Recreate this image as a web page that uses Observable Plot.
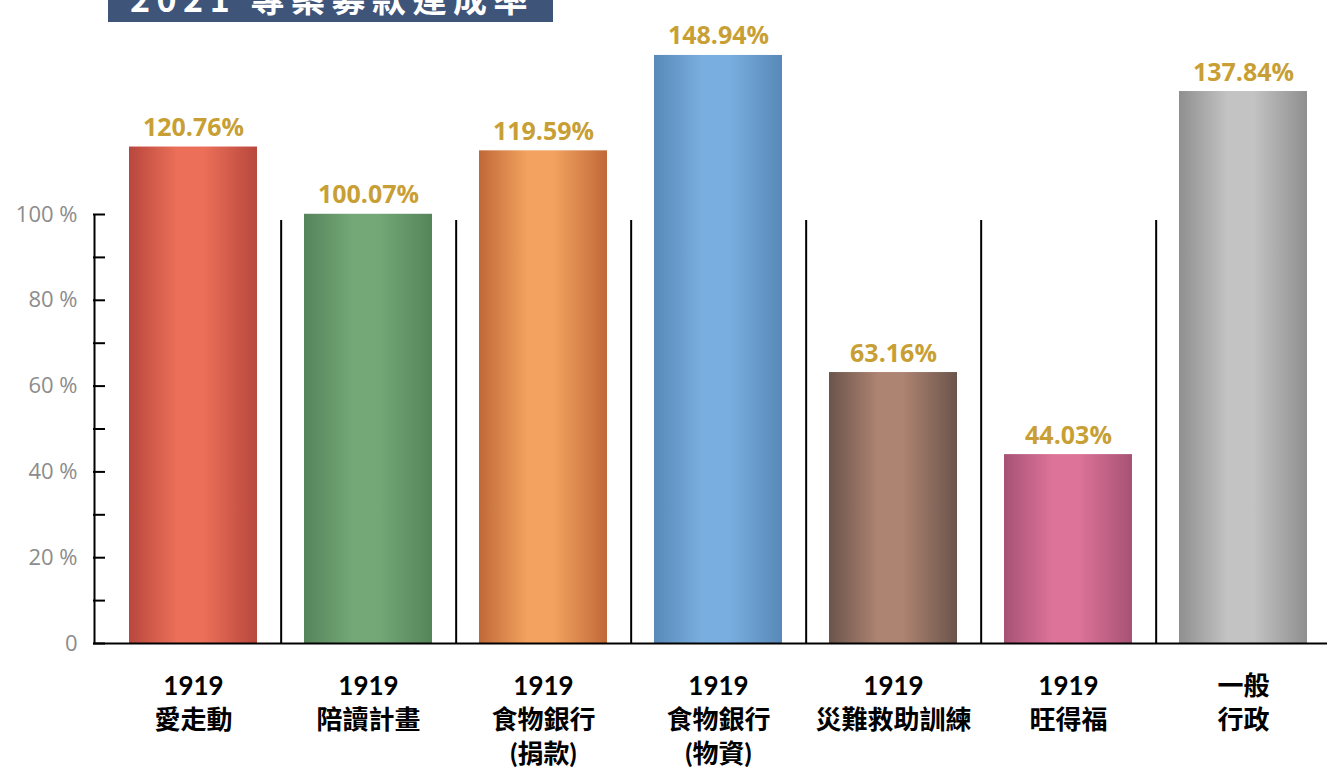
<!DOCTYPE html>
<html><head><meta charset="utf-8">
<script src="https://cdn.jsdelivr.net/npm/d3@7"></script>
<script src="https://cdn.jsdelivr.net/npm/@observablehq/plot@0.6"></script>
<style>
body{margin:0;background:#fff;font-family:Lato,"Noto Sans CJK TC",sans-serif;position:relative;}
#title{position:absolute;left:108px;top:0;width:445px;height:22px;background:#3f5479;overflow:hidden;z-index:2;}
#title span{position:absolute;left:22px;top:-19px;font-size:34px;line-height:34px;font-weight:bold;color:#fff;letter-spacing:6.5px;white-space:nowrap;font-family:"Noto Sans CJK TC",sans-serif;}
#chart svg{display:block;}
</style></head><body>
<div id="title"><span>2021 專案募款達成率</span></div>
<div id="chart"></div>
<script>
const categories = ["愛走動", "陪讀計畫", "食物銀行(捐款)", "食物銀行(物資)", "災難救助訓練", "旺得福", "一般行政"];
const labels = ["1919\n愛走動", "1919\n陪讀計畫", "1919\n食物銀行\n(捐款)", "1919\n食物銀行\n(物資)", "1919\n災難救助訓練", "1919\n旺得福", "一般\n行政"];
const values = [120.76, 100.07, 119.59, 148.94, 63.16, 44.03, 137.84];
const edgeColors = ["#b8473d", "#55845a", "#c06838", "#5889b8", "#6b544b", "#a65274", "#8f8f8f"];
const centerColors = ["#ec7059", "#74a877", "#f3a35f", "#79afe0", "#ad8371", "#de7399", "#c2c3c2"];
const yTicks = [0, 20, 40, 60, 80, 100];
const yMinorTicks = [0, 10, 20, 30, 40, 50, 60, 70, 80, 90, 100];
const separatorTop = 98.6;

const data = categories.map((c, i) => ({key: c, label: labels[i], value: values[i], grad: `url(#grad${i})`}));

const W = 1327, H = 769, marginLeft = 93;
const xRange = [104.33, 1331.67];
const padIn = 0.27, padOut = 0.135;
const step = (xRange[1] - xRange[0]) / (categories.length - padIn + 2 * padOut);
const bw = step * (1 - padIn);
const firstCenter = xRange[0] + padOut * step + bw / 2;

const chart = Plot.plot({
  width: W, height: H,
  marginLeft, marginRight: 0, marginTop: 0, marginBottom: 0,
  style: {background: "#fff", fontFamily: "Lato, 'Noto Sans CJK TC', sans-serif"},
  x: {domain: categories, range: xRange, paddingInner: padIn, paddingOuter: padOut, axis: null},
  y: {type: "linear", domain: [0, 100, 150], range: [643, 214, 51.5]},
  color: {type: "identity"},
  marks: [
    Plot.barY(data, {x: "key", y: "value", fill: "grad"}),
    Plot.ruleX(data.slice(0, categories.length - 1), {x: "key", y1: 0, y2: separatorTop, dx: step / 2, stroke: "#000", strokeWidth: 2}),
    Plot.ruleX([data[0]], {x: "key", y1: 0, y2: 100, dx: marginLeft - firstCenter, stroke: "#000", strokeWidth: 2}),
    Plot.ruleY([0], {stroke: "#000", strokeWidth: 2}),
    Plot.axisY(yMinorTicks, {label: null, tickSize: -12, tickFormat: () => "", stroke: "#000", strokeWidth: 2}),
    Plot.axisY(yTicks, {label: null, tickSize: 0, tickPadding: 16, tickFormat: d => d === 0 ? "0" : d + " %", fill: "#8c8c8c", fontSize: 22, fontFamily: "'Open Sans', sans-serif"}),
    Plot.text(data, {x: "key", y: "value", text: d => d.value.toFixed(2) + "%", lineAnchor: "bottom", dy: -11, fill: "#c89f35", fontSize: 25, fontWeight: "bold", fontFamily: "'Open Sans', sans-serif"}),
    Plot.text(data, {x: "key", y: 0, text: "label", lineAnchor: "top", dy: 27, fontSize: 26, fontWeight: "bold", fill: "#000", lineHeight: 1.31, fontFamily: "Lato, 'Noto Sans CJK TC', sans-serif"})
  ]
});

const ns = "http://www.w3.org/2000/svg";
const defs = document.createElementNS(ns, "defs");
centerColors.forEach((c, i) => {
  const g = document.createElementNS(ns, "linearGradient");
  g.setAttribute("id", "grad" + i);
  g.setAttribute("x1", "0"); g.setAttribute("x2", "1"); g.setAttribute("y1", "0"); g.setAttribute("y2", "0");
  [[0, edgeColors[i]], [0.38, c], [0.58, c], [1, edgeColors[i]]].forEach(([o, col]) => {
    const s = document.createElementNS(ns, "stop");
    s.setAttribute("offset", o);
    s.setAttribute("stop-color", col);
    g.appendChild(s);
  });
  defs.appendChild(g);
});
chart.insertBefore(defs, chart.firstChild);
document.getElementById("chart").appendChild(chart);
</script>
</body></html>
